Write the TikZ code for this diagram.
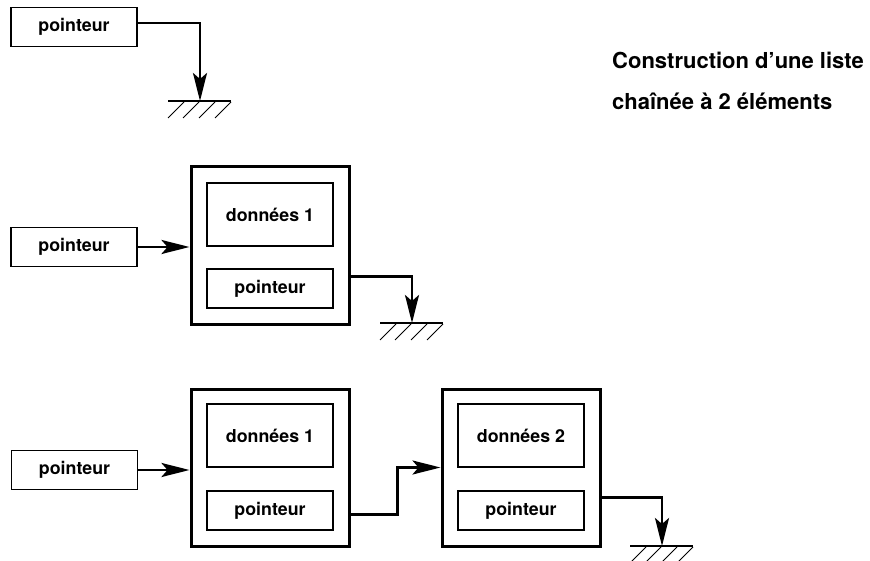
\documentclass[tikz,border=0pt]{standalone}
\usepackage{fontspec}
\setmainfont{TeX Gyre Heros}
\usetikzlibrary{positioning,arrows.meta}

\tikzset{
	boite/.style={draw, line width=1.2pt, minimum width=126pt, minimum height=39pt, inner sep=0pt, font=\fontsize{17.8}{20}\selectfont\bfseries},
	donnee/.style={boite, minimum height=63pt},
	maillon/.style={draw, line width=3pt, minimum width=158pt, minimum height=157pt, inner sep=0pt},
	titre/.style={anchor=base west, inner sep=0pt, font=\fontsize{22}{26}\selectfont\bfseries},
	lien/.style={line width=2.6pt, -{Stealth[length=28pt,width=14pt,inset=6pt]}},
	masse/.pic={
		\draw[line width=2.6pt] (-32,0) -- (31,0);
		\foreach \dx in {-32,-17,-1,15}
			\draw[line width=1pt] (\dx,17) -- ++(16,-16);
	},
}

\begin{document}
\begin{tikzpicture}[x=1pt, y=-1pt]
	\useasboundingbox (0,0) rectangle (870,561);

	% pointeur seul
	\node[boite] (p0) at (74,27) {pointeur};
	\coordinate (g0) at (200,101);
	\draw[lien] ([yshift=4pt]p0.east) -| (g0);
	\pic at (g0) {masse};

	\node[titre] (t1) at (612,69) {Construction d’une liste};
	\node[titre] (t2) at (612,110) {chaînée à 2 éléments};

	% un element
	\node[boite] (p1) at (74,247) {pointeur};
	\node[maillon] (m1) at (270,245.5) {};
	\node[donnee] (d1) at (270,214.5) {données 1};
	\node[boite] (q1) at (270,288.5) {pointeur};
	\coordinate (g1) at (412,323);
	\draw[lien] (p1.east) -- (p1.east -| m1.west);
	\draw[lien] ([yshift=-31pt]m1.east) -| (g1);
	\pic at (g1) {masse};

	% deux elements
	\node[boite] (p2) at (74.5,470) {pointeur};
	\node[maillon] (m2) at (270,467.5) {};
	\node[donnee] (d2) at (270,435.5) {données 1};
	\node[boite] (q2) at (270,510.5) {pointeur};
	\node[maillon] (m3) at (521,467.5) {};
	\node[donnee] (d3) at (521,435.5) {données 2};
	\node[boite] (q3) at (521,510.5) {pointeur};
	\coordinate (g2) at (662,546);
	\draw[lien] (p2.east) -- (p2.east -| m2.west);
	\draw[lien] ([yshift=-4pt]q2.east -| m2.east) -- ++(47,0) |- (m3.west);
	\draw[lien] ([yshift=-30pt]m3.east) -| (g2);
	\pic at (g2) {masse};
\end{tikzpicture}
\end{document}
